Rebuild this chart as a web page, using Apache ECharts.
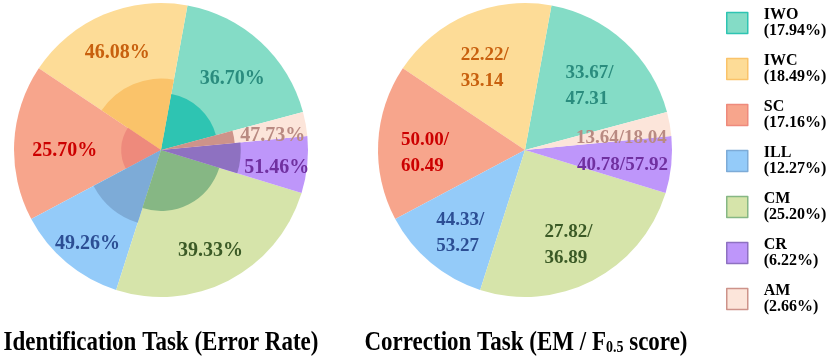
<!DOCTYPE html>
<html>
<head>
<meta charset="utf-8">
<script src="https://cdn.jsdelivr.net/npm/echarts@6/dist/echarts.min.js"></script>
<style>
  html, body { margin: 0; padding: 0; background: #fff; }
  #main { width: 830px; height: 356px; }
</style>
</head>
<body>
<div id="main"></div>
<script>
// categories and their share of all samples (legend %)
const categories = ['IWO', 'IWC', 'SC', 'ILL', 'CM', 'CR', 'AM'];
const shares = [17.94, 18.49, 17.16, 12.27, 25.20, 6.22, 2.66];
// identification task: error rate (%)
const errorRates = [36.70, 46.08, 25.70, 49.26, 39.33, 51.46, 47.73];
// correction task: EM / F0.5
const emScores = [33.67, 22.22, 50.00, 44.33, 27.82, 40.78, 13.64];
const f05Scores = [47.31, 33.14, 60.49, 53.27, 36.89, 57.92, 18.04];

// colours
const lightColors = ['#84dcc6', '#fddc97', '#f7a58c', '#94cbf9', '#d6e4aa', '#be96fa', '#fce5da'];
const darkColors  = ['#2ec4b2', '#fac36a', '#ee8a7c', '#7dabd7', '#86b784', '#8e71c1', '#cd938a'];
const textColors  = ['#2a8c7e', '#c8600e', '#cc0000', '#2c4e94', '#3b5a26', '#7030a0', '#b98a82'];

const FONT = 'Liberation Serif';
const R = 147;            // outer radius (px)
const RATE_SCALE = 1.55;  // px of inner radius per % error rate
const START = 15;
const leftCenter = [161, 150];
const rightCenter = [525, 150];
const total = shares.reduce((a, b) => a + b, 0);
const clear = 'rgba(0,0,0,0)';

let series = [];

function basePie(center) {
    return {
        type: 'pie',
        center: center,
        radius: [0, R],
        startAngle: START,
        clockwise: false,
        silent: true,
        label: { show: false },
        labelLine: { show: false },
        data: categories.map((c, i) => ({
            name: c,
            value: shares[i],
            itemStyle: { color: lightColors[i] }
        }))
    };
}

// left pie: base + inner error-rate sectors + label ring
series.push(basePie(leftCenter));
let before = 0;
categories.forEach((c, i) => {
    const r = errorRates[i] * RATE_SCALE;
    const sa = START + before / total * 360;
    series.push({
        type: 'pie',
        center: leftCenter,
        radius: [0, r],
        startAngle: sa,
        clockwise: false,
        silent: true,
        label: { show: false },
        labelLine: { show: false },
        data: [
            { name: c + '_in', value: shares[i], itemStyle: { color: darkColors[i] } },
            { name: '', value: total - shares[i], itemStyle: { color: clear } }
        ]
    });
    series.push({
        type: 'pie',
        center: leftCenter,
        radius: [r, R],
        startAngle: sa,
        clockwise: false,
        silent: true,
        labelLine: { show: false },
        data: [
            {
                name: c + '_lab', value: shares[i], itemStyle: { color: clear },
                label: {
                    show: true, position: 'inside', offset: [0, 6],
                    formatter: errorRates[i].toFixed(2) + '%',
                    color: textColors[i], fontFamily: FONT, fontWeight: 'bold', fontSize: 20
                }
            },
            { name: '', value: total - shares[i], itemStyle: { color: clear }, label: { show: false } }
        ]
    });
    before += shares[i];
});

// right pie
series.push(basePie(rightCenter));
series.push({
    type: 'pie',
    center: rightCenter,
    radius: [43, R],
    startAngle: START,
    clockwise: false,
    silent: true,
    labelLine: { show: false },
    label: {
        show: true, position: 'inside',
        fontFamily: FONT, fontWeight: 'bold', fontSize: 19, lineHeight: 26
    },
    data: categories.map((c, i) => {
        const wrap = shares[i] > 10;
        const a = emScores[i].toFixed(2), b = f05Scores[i].toFixed(2);
        return {
            name: c + '_r', value: shares[i], itemStyle: { color: clear },
            label: {
                color: textColors[i],
                offset: [0, wrap ? 8 : 5],
                formatter: wrap ? '{v|' + a + '/}\n{v|' + b + '}' : a + '/' + b,
                rich: { v: { width: 52, align: 'left', color: textColors[i], fontFamily: FONT, fontWeight: 'bold', fontSize: 19, lineHeight: 26 } }
            }
        };
    })
});

// titles under the pies (slightly tall type, like the original)
function titleText(x, text) {
    return {
        type: 'text',
        x: x, y: 342.5,
        scaleY: 1.18,
        silent: true,
        style: {
            text: text,
            fontFamily: FONT, fontWeight: 'bold', fontSize: 23,
            fill: '#000', align: 'center', verticalAlign: 'middle',
            rich: {
                sub: { fontFamily: FONT, fontWeight: 'bold', fontSize: 14, lineHeight: 14, fill: '#000', verticalAlign: 'bottom' }
            }
        }
    };
}

const chart = echarts.init(document.getElementById('main'), null, { renderer: 'canvas' });
chart.setOption({
    animation: false,
    backgroundColor: '#fff',
    graphic: [
        titleText(161, 'Identification Task (Error Rate)'),
        titleText(526, 'Correction Task (EM / F{sub|0.5} score)')
    ],
    legend: {
        orient: 'vertical',
        left: 726, top: 7, padding: 0,
        itemWidth: 21, itemHeight: 21, itemGap: 14,
        icon: 'rect',
        selectedMode: false,
        textStyle: { fontFamily: FONT, fontWeight: 'bold', fontSize: 16, lineHeight: 16, color: '#000', padding: [0, 0, 0, 11] },
        formatter: name => name + '\n(' + shares[categories.indexOf(name)].toFixed(2) + '%)',
        data: categories.map((c, i) => ({
            name: c,
            itemStyle: { color: lightColors[i], borderColor: darkColors[i], borderWidth: 1.5 }
        }))
    },
    series: series
});
</script>
</body>
</html>
